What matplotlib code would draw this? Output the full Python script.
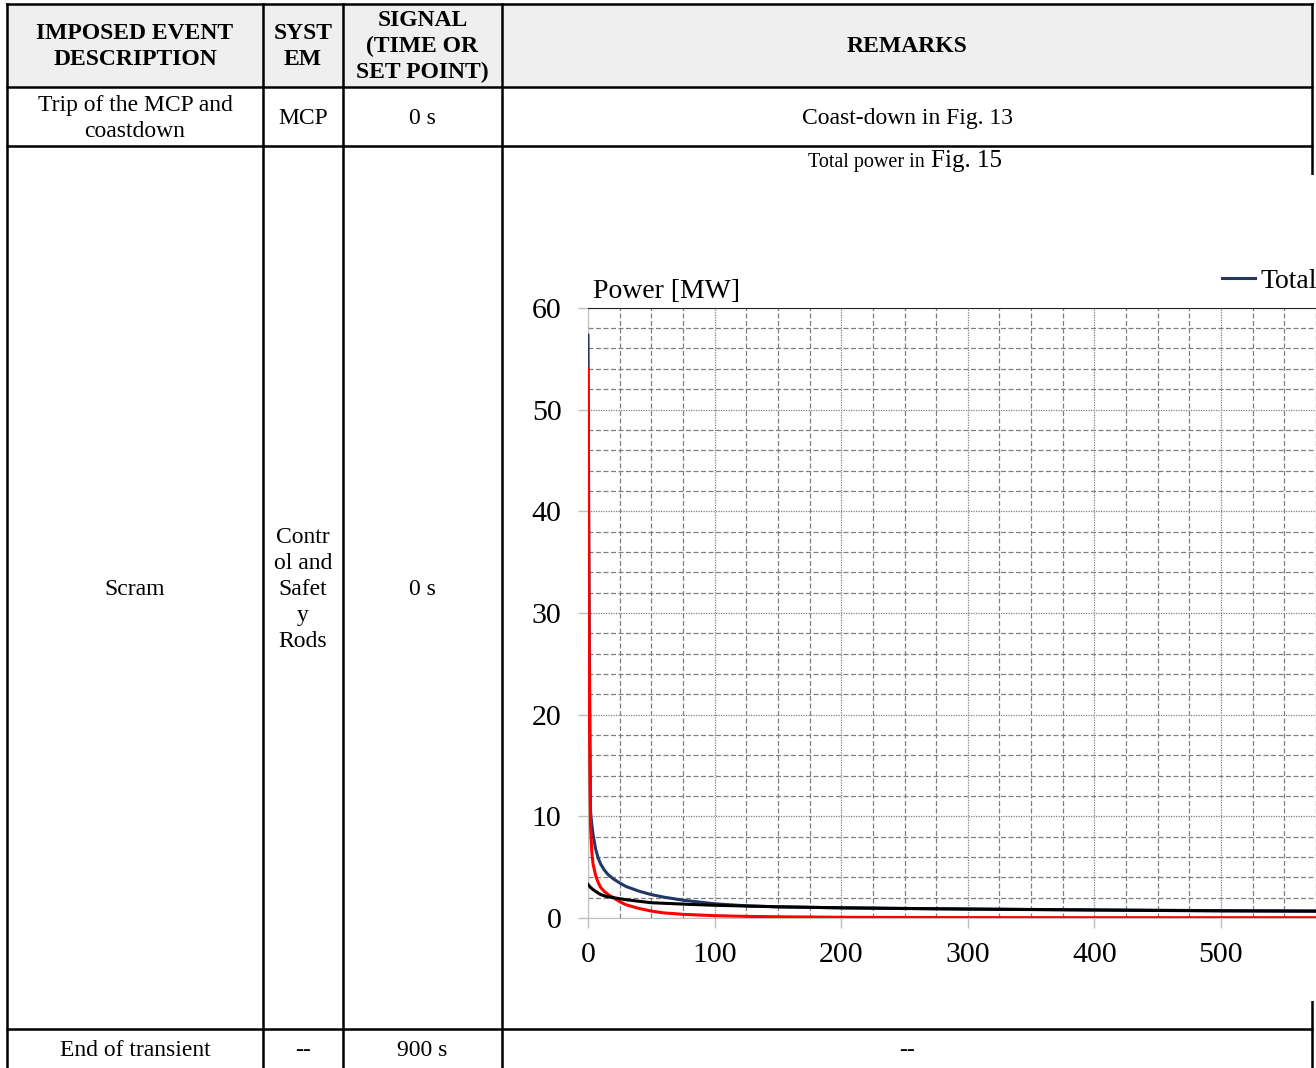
import matplotlib
matplotlib.use('Agg')
import matplotlib.pyplot as plt
from matplotlib.ticker import MultipleLocator
from matplotlib.patches import Rectangle

# --- Data ---
t_total = [0, 0.3, 0.6, 1, 1.5, 2, 3, 4, 6, 8, 10, 13, 16, 20, 25, 30, 40, 50, 60, 75,
           100, 125, 150, 200, 250, 300, 400, 500, 575]
p_total = [57.3, 48.5, 38.5, 28.5, 18.5, 10.5, 9.2, 8.2, 6.8, 5.9, 5.3, 4.7, 4.25, 3.85, 3.45,
           3.1, 2.65, 2.3, 2.05, 1.75, 1.4, 1.2, 1.1, 1.0, 0.93, 0.88, 0.8, 0.72, 0.69]

t_fission = [0, 0.3, 0.6, 1, 1.5, 2, 3, 4, 6, 8, 10, 13, 16, 20, 25, 30, 40, 50, 60, 75,
             100, 125, 150, 200, 250, 300, 400, 500, 575]
p_fission = [54.0, 45.0, 35.0, 25.0, 15.0, 9.0, 6.5, 5.3, 4.2, 3.5, 3.0, 2.6, 2.3, 2.0, 1.6,
             1.3, 0.95, 0.68, 0.5, 0.36, 0.23, 0.16, 0.12, 0.07, 0.05, 0.04, 0.03, 0.03, 0.03]

t_decay = [0, 2, 5, 10, 15, 20, 30, 40, 50, 65, 80, 100, 150, 200, 300, 400, 500, 575]
p_decay = [3.3, 3.0, 2.7, 2.3, 2.1, 2.0, 1.8, 1.65, 1.5, 1.42, 1.34, 1.25, 1.1, 1.0, 0.88, 0.78,
           0.7, 0.67]

x_ticks = [0, 100, 200, 300, 400, 500]
y_ticks = [0, 10, 20, 30, 40, 50, 60]

header = ["IMPOSED EVENT\nDESCRIPTION", "SYST\nEM", "SIGNAL\n(TIME OR\nSET POINT)", "REMARKS"]
rows = [
    ["Trip of the MCP and\ncoastdown", "MCP", "0 s", "Coast-down in Fig. 13"],
    ["Scram", "Contr\nol and\nSafet\ny\nRods", "0 s", ""],
    ["End of transient", "--", "900 s", "--"],
]

# --- Layout (pixels) ---
W, H = 1316, 1068
col_x = [7, 263, 343, 502, 1312]
row_y = [4, 87, 146, 1029, 1068]
SERIF = ['Liberation Serif', 'DejaVu Serif']

fig = plt.figure(figsize=(W / 100, H / 100), dpi=100)
bg = fig.add_axes([0, 0, 1, 1])
bg.set_xlim(0, W)
bg.set_ylim(H, 0)
bg.axis('off')

# header shading
bg.add_patch(Rectangle((col_x[0], row_y[0]), col_x[-1] - col_x[0], row_y[1] - row_y[0],
                       facecolor='#efefef', edgecolor='none', zorder=0))
lw = 1.8
for y in row_y[:4]:
    bg.plot([col_x[0], col_x[-1]], [y, y], color='black', lw=lw, zorder=1)
for x in col_x:
    bg.plot([x, x], [row_y[0], H], color='black', lw=lw, zorder=1)

# white chart picture covering the remarks cell
bg.add_patch(Rectangle((505, 175), W - 505, 1001 - 175, facecolor='white',
                       edgecolor='none', zorder=2))

def cell_text(col, r0, r1, s, dy=2, **kw):
    cx = (col_x[col] + col_x[col + 1]) / 2
    cy = (row_y[r0] + row_y[r1]) / 2 + dy
    bg.text(cx, cy, s, ha='center', va='center', family=SERIF, fontsize=17,
            linespacing=1.3, zorder=3, **kw)

for c, s in enumerate(header):
    cell_text(c, 0, 1, s, dy=1, fontweight='bold')
for r, row in enumerate(rows):
    for c, s in enumerate(row):
        if s:
            cell_text(c, r + 1, r + 2, s)

bg.text(925, 163, "Total power in", ha='right', va='center', family=SERIF, fontsize=14.5, zorder=3)
bg.text(931, 161, "Fig. 15", ha='left', va='center', family=SERIF, fontsize=18, zorder=3)

# --- Chart ---
x0_px, y0_px = 588, 918
px_per_s = 1.266
px_per_mw = 10.17
x_max = (W - x0_px) / px_per_s
ax = fig.add_axes([x0_px / W, (H - y0_px) / H, (W - x0_px) / W, 60 * px_per_mw / H])
ax.set_xlim(0, x_max)
ax.set_ylim(0, 60)
ax.set_zorder(5)
ax.patch.set_alpha(0)

ax.plot(t_total, p_total, color='#1f3864', lw=2.2, label='Total', zorder=3)
ax.plot(t_fission, p_fission, color='#ff0000', lw=2.2, zorder=4)
ax.plot(t_decay, p_decay, color='black', lw=2.2, zorder=5)

ax.set_xticks(x_ticks)
ax.set_yticks(y_ticks)
ax.xaxis.set_minor_locator(MultipleLocator(25))
ax.yaxis.set_minor_locator(MultipleLocator(2))
ax.grid(which='minor', color='#808080', linestyle=(0, (4, 2)), lw=0.9)
ax.grid(which='major', color='#808080', linestyle=(0, (1, 1)), lw=0.9)
ax.set_axisbelow(True)
ax.tick_params(which='major', length=7, color='#bfbfbf', width=1, labelsize=21.5)
ax.tick_params(axis='x', which='major', pad=10)
ax.tick_params(axis='y', which='major', pad=12)
ax.tick_params(which='minor', length=0)
for lab in ax.get_xticklabels() + ax.get_yticklabels():
    lab.set_family(SERIF)
for side in ['left', 'bottom']:
    ax.spines[side].set_color('#bfbfbf')
ax.spines['top'].set_color('#262626')
ax.spines['right'].set_visible(False)

fig.text(593 / W, 1 - 298 / H, "Power [MW]", family=SERIF, fontsize=20,
         ha='left', va='baseline')

ax.legend(loc='center left', bbox_to_anchor=(1222 / W, 1 - 281 / H),
          bbox_transform=fig.transFigure, frameon=False, prop={'family': SERIF, 'size': 20},
          handlelength=1.2, handletextpad=0.2, borderpad=0, borderaxespad=0)

fig.savefig('out.png', dpi=100)
